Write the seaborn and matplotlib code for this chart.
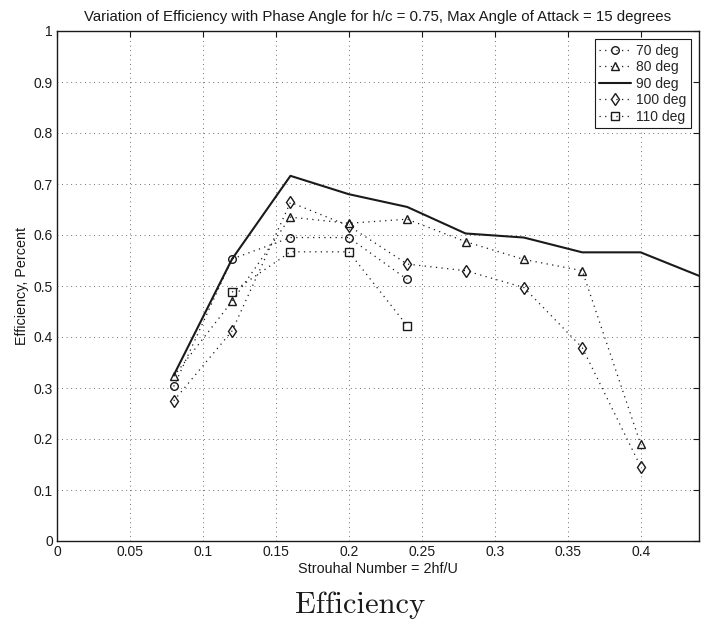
import matplotlib
matplotlib.use("Agg")
import matplotlib.pyplot as plt
import seaborn as sns
import numpy as np

# ---- data ----
strouhal = [0.08, 0.12, 0.16, 0.20, 0.24, 0.28, 0.32, 0.36, 0.40]
strouhal_90 = [0.08, 0.12, 0.16, 0.20, 0.24, 0.28, 0.32, 0.36, 0.40, 0.44]
strouhal_110 = [0.12, 0.16, 0.20, 0.24]
eff_70 = [0.303, 0.553, 0.595, 0.595, 0.513]
eff_80 = [0.323, 0.470, 0.635, 0.623, 0.631, 0.587, 0.552, 0.530, 0.190]
eff_90 = [0.325, 0.553, 0.716, 0.680, 0.655, 0.603, 0.595, 0.566, 0.566, 0.520]
eff_100 = [0.275, 0.412, 0.664, 0.618, 0.543, 0.530, 0.497, 0.379, 0.146]
eff_110 = [0.488, 0.567, 0.567, 0.422]
labels = ["70 deg", "80 deg", "90 deg", "100 deg", "110 deg"]

xticks = [0, 0.05, 0.1, 0.15, 0.2, 0.25, 0.3, 0.35, 0.4]
xtick_labels = ["0", "0.05", "0.1", "0.15", "0.2", "0.25", "0.3", "0.35", "0.4"]
yticks = [0, 0.1, 0.2, 0.3, 0.4, 0.5, 0.6, 0.7, 0.8, 0.9, 1.0]
ytick_labels = ["0", "0.1", "0.2", "0.3", "0.4", "0.5", "0.6", "0.7", "0.8", "0.9", "1"]

title = "Variation of Efficiency with Phase Angle for h/c = 0.75, Max Angle of Attack = 15 degrees"
xlabel = "Strouhal Number = 2hf/U"
ylabel = "Efficiency, Percent"
caption = "Efficiency"

# ---- style ----
sns.set_theme(style="white")
plt.rcParams["font.family"] = ["Liberation Sans", "DejaVu Sans"]

fig = plt.figure(figsize=(7.1, 6.28), dpi=100)
ax = fig.add_axes([57 / 710, 1 - 541 / 628, (699 - 57) / 710, (541 - 31) / 628])

dotted = (0, (1, 3.5))
series = [
    (labels[0], strouhal[:len(eff_70)], eff_70, "o", 5.5, dotted),
    (labels[1], strouhal[:len(eff_80)], eff_80, "^", 6, dotted),
    (labels[2], strouhal_90, eff_90, None, 0, "-"),
    (labels[3], strouhal[:len(eff_100)], eff_100, "d", 6, dotted),
    (labels[4], strouhal_110, eff_110, "s", 5.5, dotted),
]

for lab, xs, ys, mk, ms, ls in series:
    kw = dict(color="k", linestyle=ls, linewidth=1.5 if ls == "-" else 0.9)
    if mk is not None:
        kw.update(marker=mk, markersize=ms, markerfacecolor="none",
                  markeredgecolor="k", markeredgewidth=1.0)
    sns.lineplot(x=xs, y=ys, ax=ax, label=lab, errorbar=None, **kw)

ax.set_xlim(0, 0.44)
ax.set_ylim(0, 1)
ax.set_xticks(xticks)
ax.set_xticklabels(xtick_labels)
ax.set_yticks(yticks)
ax.set_yticklabels(ytick_labels)

ax.grid(True, linestyle=(0, (1, 4.5)), color="0.25", linewidth=0.6)
ax.tick_params(direction="in", top=True, right=True, length=4, width=0.8,
               labelsize=10, colors="k", pad=3)
for sp in ax.spines.values():
    sp.set_color("k")
    sp.set_linewidth(1.0)

ax.set_title(title, fontsize=10.8, pad=7, color="k")
ax.set_xlabel(xlabel, fontsize=10.4, labelpad=2, color="k")
ax.set_ylabel(ylabel, fontsize=10.4, labelpad=3, color="k")

handles, labs = ax.get_legend_handles_labels()
leg = ax.legend(handles, labs, loc="upper right", fontsize=10, frameon=True,
                fancybox=False, framealpha=1, edgecolor="k", handlelength=2.3,
                borderpad=0.3, labelspacing=0.18, handletextpad=0.4,
                borderaxespad=0.6)
leg.get_frame().set_linewidth(0.8)

fig.text(0.507, 0.037, caption, family="cmr10", fontsize=22,
         ha="center", va="center", color="k")

fig.savefig("out.png", dpi=100)
